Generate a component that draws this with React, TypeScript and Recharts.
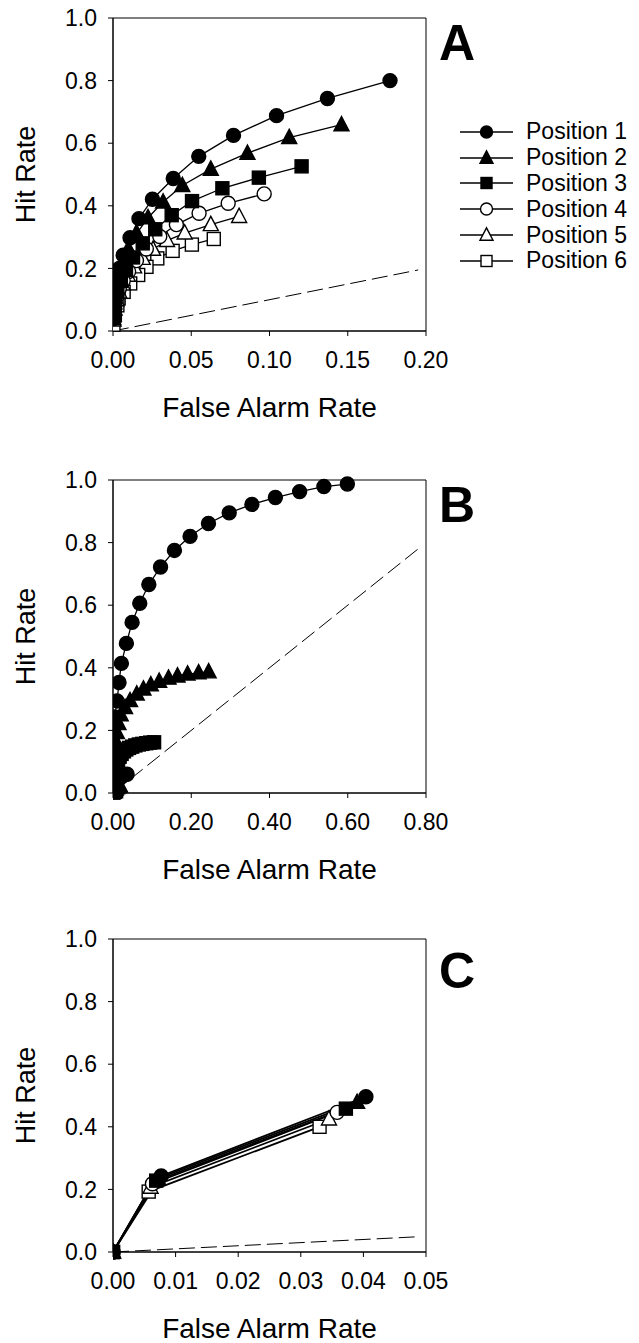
import { Legend, Line, LineChart, ReferenceArea, XAxis, YAxis } from 'recharts'

type Pt = [number, number]

// series names + marker styles (same order in every panel)
const names = ['Position 1', 'Position 2', 'Position 3', 'Position 4', 'Position 5', 'Position 6']
const shapes = ['circle', 'triangle', 'square', 'circle', 'triangle', 'square']
const filled = [true, true, true, false, false, false]
// open markers go underneath the filled ones
const drawOrder = [5, 4, 3, 1, 0, 2]

// tick values
const hitTicks = [0, 0.2, 0.4, 0.6, 0.8, 1.0]
const farTicksA = [0, 0.05, 0.1, 0.15, 0.2]
const farTicksB = [0, 0.2, 0.4, 0.6, 0.8]
const farTicksC = [0, 0.01, 0.02, 0.03, 0.04, 0.05]

// Panel A: [false alarm rate, hit rate]
const a1: Pt[] = [[0.177, 0.8], [0.137, 0.743], [0.1045, 0.688], [0.077, 0.625], [0.0548, 0.558], [0.0385, 0.487], [0.0252, 0.421], [0.0166, 0.359], [0.0109, 0.298], [0.0065, 0.242], [0.004, 0.2], [0.0024, 0.165], [0.0012, 0.13], [0.0005, 0.09], [0.0001, 0.04]]
const a2: Pt[] = [[0.146, 0.659], [0.1126, 0.618], [0.0859, 0.568], [0.0625, 0.517], [0.0443, 0.465], [0.032, 0.412], [0.0224, 0.362], [0.0152, 0.312], [0.0098, 0.263], [0.006, 0.215], [0.0035, 0.175], [0.0018, 0.135], [0.0008, 0.09], [0.0002, 0.04]]
const a3: Pt[] = [[0.1205, 0.526], [0.0932, 0.49], [0.0699, 0.456], [0.0505, 0.415], [0.0375, 0.37], [0.027, 0.325], [0.019, 0.28], [0.0128, 0.235], [0.0083, 0.195], [0.005, 0.16], [0.0028, 0.125], [0.0013, 0.09], [0.0004, 0.05]]
const a4: Pt[] = [[0.0966, 0.438], [0.0736, 0.408], [0.055, 0.376], [0.0405, 0.34], [0.0299, 0.302], [0.0213, 0.262], [0.015, 0.225], [0.01, 0.19], [0.0065, 0.16], [0.004, 0.135], [0.0022, 0.108], [0.001, 0.08], [0.0003, 0.04]]
const a5: Pt[] = [[0.0806, 0.366], [0.0625, 0.34], [0.0458, 0.313], [0.0345, 0.289], [0.0256, 0.261], [0.019, 0.232], [0.0135, 0.205], [0.0095, 0.178], [0.0062, 0.15], [0.004, 0.125], [0.0022, 0.1], [0.001, 0.07], [0.0003, 0.035]]
const a6: Pt[] = [[0.0644, 0.294], [0.0504, 0.276], [0.0381, 0.256], [0.0283, 0.232], [0.0214, 0.205], [0.0161, 0.179], [0.011, 0.152], [0.0068, 0.125], [0.0036, 0.104], [0.0028, 0.082], [0.0012, 0.05], [0.0003, 0.02]]

// Panel B
const b1: Pt[] = [[0.599, 0.987], [0.539, 0.979], [0.477, 0.963], [0.415, 0.944], [0.355, 0.922], [0.297, 0.895], [0.244, 0.861], [0.197, 0.82], [0.157, 0.775], [0.1215, 0.722], [0.0916, 0.666], [0.0684, 0.606], [0.0488, 0.545], [0.0342, 0.478], [0.0214, 0.414], [0.0154, 0.353], [0.0103, 0.294], [0.0043, 0.243], [0.002, 0.19], [0.001, 0.14], [0.0005, 0.09], [0.0002, 0.045]]
const b2: Pt[] = [[0.2444, 0.387], [0.2188, 0.384], [0.1906, 0.38], [0.165, 0.374], [0.142, 0.367], [0.118, 0.357], [0.0966, 0.346], [0.0778, 0.332], [0.0607, 0.316], [0.0436, 0.295], [0.0308, 0.273], [0.0197, 0.25], [0.014, 0.222], [0.01, 0.193], [0.007, 0.165], [0.0048, 0.138], [0.003, 0.112], [0.0018, 0.088], [0.001, 0.065], [0.0005, 0.043], [0.0002, 0.022]]
const b3: Pt[] = [[0.105, 0.162], [0.095, 0.161], [0.085, 0.159], [0.075, 0.157], [0.066, 0.155], [0.057, 0.152], [0.049, 0.148], [0.041, 0.144], [0.034, 0.139], [0.028, 0.133], [0.022, 0.125], [0.017, 0.116], [0.013, 0.106], [0.009, 0.094], [0.006, 0.08], [0.004, 0.065], [0.002, 0.048], [0.001, 0.03], [0.0003, 0.012]]
const b4: Pt[] = [[0.036, 0.06], [0.03, 0.058], [0.025, 0.055], [0.02, 0.051], [0.016, 0.047], [0.012, 0.042], [0.009, 0.036], [0.006, 0.029], [0.004, 0.021], [0.002, 0.013], [0.001, 0.006]]
const b5: Pt[] = [[0.018, 0.022], [0.014, 0.02], [0.01, 0.017], [0.007, 0.013], [0.004, 0.009], [0.002, 0.005], [0.001, 0.002]]
const b6: Pt[] = [[0.008, 0.006], [0.005, 0.004], [0.003, 0.003], [0.001, 0.001]]

// Panel C
const c1: Pt[] = [[0, 0], [0.0077, 0.243], [0.0404, 0.496]]
const c2: Pt[] = [[0, 0], [0.0072, 0.235], [0.039, 0.478]]
const c3: Pt[] = [[0, 0], [0.0069, 0.228], [0.0372, 0.458]]
const c4: Pt[] = [[0, 0], [0.0063, 0.218], [0.0358, 0.446]]
const c5: Pt[] = [[0, 0], [0.006, 0.207], [0.0345, 0.425]]
const c6: Pt[] = [[0, 0], [0.0057, 0.193], [0.033, 0.4]]

// chance diagonals
const chanceA: Pt[] = [[0, 0], [0.195, 0.195]]
const chanceB: Pt[] = [[0, 0], [0.78, 0.78]]
const chanceC: Pt[] = [[0, 0], [0.049, 0.049]]

const FONT = '"Liberation Sans", Arial, sans-serif'
const PLOT_LEFT = 113
const PLOT_RIGHT = 426
const PLOT_H = 313
const MARGIN_TOP = 20
const X_AXIS_H = 92

const rows = (pts: Pt[]) => pts.map(([x, y]) => ({ x, y }))

function Marker({ cx, cy, shape, fill, size }: any) {
  if (cx == null || cy == null) return null
  const f = fill ? '#000' : '#fff'
  if (shape === 'circle') {
    return <circle cx={cx} cy={cy} r={size / 2} fill={f} stroke='#000' strokeWidth={1.4} />
  }
  if (shape === 'square') {
    const s = size - 1
    return <rect x={cx - s / 2} y={cy - s / 2} width={s} height={s} fill={f} stroke='#000' strokeWidth={1.4} />
  }
  const w = size + 1
  const pts = `${cx},${cy - w * 0.55} ${cx - w / 2},${cy + w * 0.4} ${cx + w / 2},${cy + w * 0.4}`
  return <polygon points={pts} fill={f} stroke='#000' strokeWidth={1.4} strokeLinejoin='miter' />
}

function LegendBox() {
  return (
    <div style={{ fontFamily: FONT, fontSize: 23, color: '#000' }}>
      {names.map((n, i) => (
        <div key={n} style={{ display: 'flex', alignItems: 'center', height: 25.85 }}>
          <svg width={53} height={20} style={{ display: 'block' }}>
            <line x1={0} x2={53} y1={10} y2={10} stroke='#000' strokeWidth={1.5} />
            <Marker cx={26.5} cy={10} shape={shapes[i]} fill={filled[i]} size={12} />
          </svg>
          <span style={{ marginLeft: 13, lineHeight: 1 }}>{n}</span>
        </div>
      ))}
    </div>
  )
}

function Panel({ top, width, series, chance, xTicks, digits, allFilled, lineWidth, legend }: any) {
  const xMax = xTicks[xTicks.length - 1]
  const chartTop = top - MARGIN_TOP
  return (
    <div style={{ position: 'absolute', left: 0, top: chartTop }}>
      <LineChart
        width={width}
        height={MARGIN_TOP + PLOT_H + X_AXIS_H}
        margin={{ top: MARGIN_TOP, right: width - PLOT_RIGHT, left: 0, bottom: 0 }}
      >
        <XAxis
          type='number'
          dataKey='x'
          domain={[0, xMax]}
          ticks={xTicks}
          interval={0}
          allowDataOverflow
          height={X_AXIS_H}
          tickSize={5}
          tickMargin={16}
          tickFormatter={(v: number) => v.toFixed(digits)}
          tick={{ fontSize: 23, fill: '#000', fontFamily: FONT }}
          axisLine={{ stroke: '#000' }}
          tickLine={{ stroke: '#000' }}
          label={{
            content: (p: any) => {
              const vb = p.viewBox || {}
              return (
                <text x={vb.x + vb.width / 2} y={vb.y + 86} textAnchor='middle' fontSize={28} fontFamily={FONT} fill='#000'>
                  False Alarm Rate
                </text>
              )
            },
          }}
        />
        <YAxis
          type='number'
          domain={[0, 1]}
          ticks={hitTicks}
          interval={0}
          width={PLOT_LEFT}
          tickSize={5}
          tickMargin={11}
          tickFormatter={(v: number) => v.toFixed(1)}
          tick={{ fontSize: 23, fill: '#000', fontFamily: FONT }}
          axisLine={{ stroke: '#000' }}
          tickLine={{ stroke: '#000' }}
          label={{
            content: (p: any) => {
              const vb = p.viewBox || {}
              const cy = vb.y + vb.height / 2
              return (
                <text x={35} y={cy} transform={`rotate(-90 35 ${cy})`} textAnchor='middle' fontSize={27} fontFamily={FONT} fill='#000'>
                  Hit Rate
                </text>
              )
            },
          }}
        />
        {/* box around the plot */}
        <ReferenceArea x1={0} x2={xMax} y1={0} y2={1} fillOpacity={0} stroke='#000' strokeWidth={1} ifOverflow='visible' />
        {/* chance line */}
        <Line
          data={rows(chance)}
          dataKey='y'
          stroke='#000'
          strokeWidth={1}
          strokeDasharray='16 6'
          dot={false}
          activeDot={false}
          legendType='none'
          isAnimationActive={false}
        />
        {drawOrder.map((i) => (
          <Line
            key={names[i]}
            name={names[i]}
            data={rows(series[i])}
            dataKey='y'
            stroke='#000'
            strokeWidth={lineWidth}
            activeDot={false}
            isAnimationActive={false}
            dot={(p: any) => (
              <Marker
                key={`${names[i]}-${p.index}`}
                cx={p.cx}
                cy={p.cy}
                shape={shapes[i]}
                fill={allFilled ? true : filled[i]}
                size={14}
              />
            )}
          />
        ))}
        {legend && (
          <Legend
            layout='vertical'
            align='center'
            verticalAlign='middle'
            wrapperStyle={{ left: 460, top: 118.8 - chartTop, width: 175 }}
            content={() => <LegendBox />}
          />
        )}
      </LineChart>
    </div>
  )
}

export default function App() {
  return (
    <div style={{ position: 'absolute', left: 0, top: 0, width: 639, height: 1343, background: '#fff', overflow: 'hidden' }}>
      <Panel top={18} width={639} series={[a1, a2, a3, a4, a5, a6]} chance={chanceA} xTicks={farTicksA} digits={2} lineWidth={1.3} legend />
      <Panel top={480} width={470} series={[b1, b2, b3, b4, b5, b6]} chance={chanceB} xTicks={farTicksB} digits={2} lineWidth={1.3} allFilled />
      <Panel top={939} width={470} series={[c1, c2, c3, c4, c5, c6]} chance={chanceC} xTicks={farTicksC} digits={2} lineWidth={1.8} />
      {/* panel letters */}
      <svg width={639} height={1343} style={{ position: 'absolute', left: 0, top: 0, pointerEvents: 'none' }}>
        <text x={439} y={60} fontSize={50} fontWeight='bold' fontFamily={FONT}>A</text>
        <text x={439} y={522} fontSize={50} fontWeight='bold' fontFamily={FONT}>B</text>
        <text x={439} y={988} fontSize={50} fontWeight='bold' fontFamily={FONT}>C</text>
      </svg>
    </div>
  )
}
